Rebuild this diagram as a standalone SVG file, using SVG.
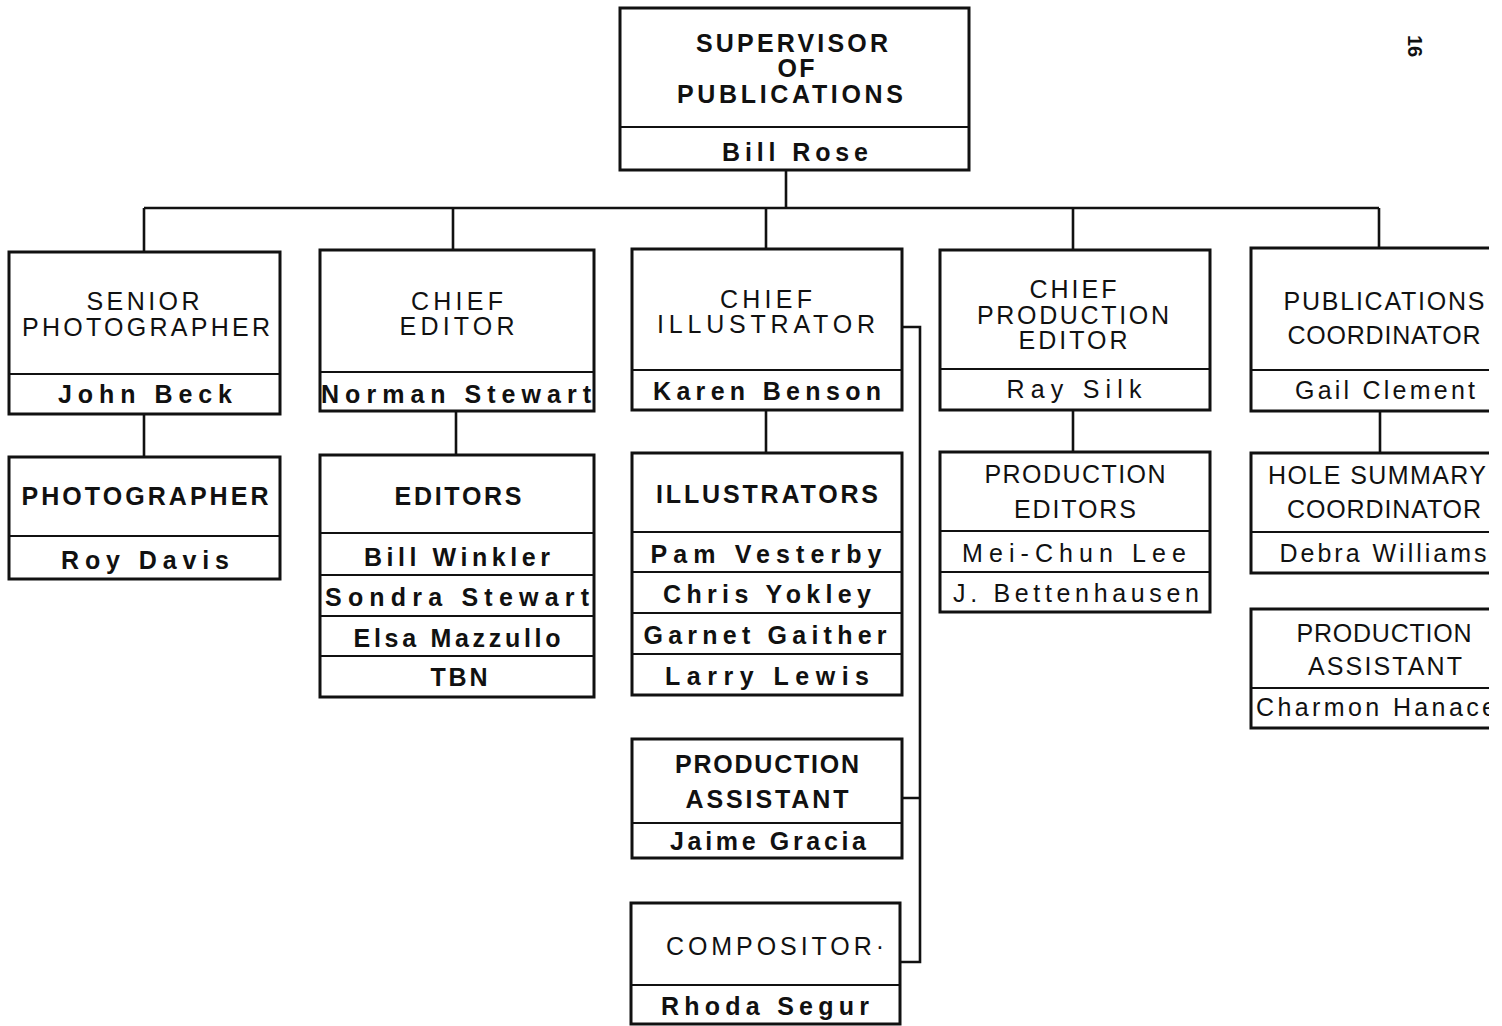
<svg xmlns="http://www.w3.org/2000/svg" width="1502" height="1026" viewBox="0 0 1502 1026">
<style>
.bx{fill:#fff;stroke:#111;stroke-width:3}
.dv{stroke:#111;stroke-width:2.2}
.cn{fill:none;stroke:#111;stroke-width:2.6}
text{font-family:"Liberation Sans","DejaVu Sans",Arial,sans-serif;font-size:25px;fill:#111;text-anchor:middle}
.t{font-weight:normal}
.b{font-weight:bold}
.n{font-weight:bold}
</style>
<defs>
<clipPath id="pg"><rect x="0" y="0" width="1489" height="1026"/></clipPath>
</defs>
<rect width="1502" height="1026" fill="#fff"/>
<g id="connectors">
<path class="cn" d="M786,170 V208 M144,208 H1379 M144,208 V252 M453,208 V250 M766,208 V249 M1073,208 V250 M1379,208 V248"/>
<path class="cn" d="M144,414 V457 M456,411 V455 M766,410 V453 M1073,410 V452 M1380,411 V453"/>
<path class="cn" d="M902,327 H920 V962 H900 M902,798 H920"/>
</g>
<g id="supervisor">
<rect class="bx" x="620" y="8" width="349" height="162"/>
<line class="dv" x1="620" y1="127" x2="969" y2="127"/>
<text class="b" x="792" y="52" textLength="192" lengthAdjust="spacing">SUPERVISOR</text>
<text class="b" x="796" y="77" textLength="37" lengthAdjust="spacing">OF</text>
<text class="b" x="790" y="103" textLength="226" lengthAdjust="spacing">PUBLICATIONS</text>
<text class="n" x="795" y="161" textLength="146" lengthAdjust="spacing">Bill  Rose</text>
</g>
<g id="senior-photographer">
<rect class="bx" x="9" y="252" width="271" height="162"/>
<line class="dv" x1="9" y1="374" x2="280" y2="374"/>
<text class="t" x="143" y="310" textLength="113" lengthAdjust="spacing">SENIOR</text>
<text class="t" x="146" y="336" textLength="248" lengthAdjust="spacing">PHOTOGRAPHER</text>
<text class="n" x="145" y="403" textLength="174" lengthAdjust="spacing">John  Beck</text>
</g>
<g id="photographer">
<rect class="bx" x="9" y="457" width="271" height="122"/>
<line class="dv" x1="9" y1="536" x2="280" y2="536"/>
<text class="b" x="145" y="505" textLength="247" lengthAdjust="spacing">PHOTOGRAPHER</text>
<text class="n" x="145" y="569" textLength="168" lengthAdjust="spacing">Roy  Davis</text>
</g>
<g id="chief-editor">
<rect class="bx" x="320" y="250" width="274" height="161"/>
<line class="dv" x1="320" y1="372" x2="594" y2="372"/>
<text class="t" x="457" y="310" textLength="92" lengthAdjust="spacing">CHIEF</text>
<text class="t" x="457" y="335" textLength="115" lengthAdjust="spacing">EDITOR</text>
<text class="n" x="456" y="403" textLength="270" lengthAdjust="spacing">Norman  Stewart</text>
</g>
<g id="editors">
<rect class="bx" x="320" y="455" width="274" height="242"/>
<line class="dv" x1="320" y1="533" x2="594" y2="533"/>
<line class="dv" x1="320" y1="575" x2="594" y2="575"/>
<line class="dv" x1="320" y1="616" x2="594" y2="616"/>
<line class="dv" x1="320" y1="656" x2="594" y2="656"/>
<text class="b" x="458" y="505" textLength="127" lengthAdjust="spacing">EDITORS</text>
<text class="n" x="457" y="566" textLength="186" lengthAdjust="spacing">Bill  Winkler</text>
<text class="n" x="457" y="606" textLength="264" lengthAdjust="spacing">Sondra  Stewart</text>
<text class="n" x="457" y="647" textLength="207" lengthAdjust="spacing">Elsa  Mazzullo</text>
<text class="n" x="459" y="686" textLength="57" lengthAdjust="spacing">TBN</text>
</g>
<g id="chief-illustrator">
<rect class="bx" x="632" y="249" width="270" height="161"/>
<line class="dv" x1="632" y1="370" x2="902" y2="370"/>
<text class="t" x="766" y="308" textLength="92" lengthAdjust="spacing">CHIEF</text>
<text class="t" x="766" y="333" textLength="218" lengthAdjust="spacing">ILLUSTRATOR</text>
<text class="n" x="767" y="400" textLength="228" lengthAdjust="spacing">Karen  Benson</text>
</g>
<g id="illustrators">
<rect class="bx" x="632" y="453" width="270" height="242"/>
<line class="dv" x1="632" y1="532" x2="902" y2="532"/>
<line class="dv" x1="632" y1="572" x2="902" y2="572"/>
<line class="dv" x1="632" y1="613" x2="902" y2="613"/>
<line class="dv" x1="632" y1="654" x2="902" y2="654"/>
<text class="b" x="767" y="503" textLength="222" lengthAdjust="spacing">ILLUSTRATORS</text>
<text class="n" x="766" y="563" textLength="231" lengthAdjust="spacing">Pam  Vesterby</text>
<text class="n" x="767" y="603" textLength="208" lengthAdjust="spacing">Chris  Yokley</text>
<text class="n" x="765" y="644" textLength="243" lengthAdjust="spacing">Garnet  Gaither</text>
<text class="n" x="767" y="685" textLength="204" lengthAdjust="spacing">Larry  Lewis</text>
</g>
<g id="production-assistant-1">
<rect class="bx" x="632" y="739" width="270" height="119"/>
<line class="dv" x1="632" y1="823" x2="902" y2="823"/>
<text class="b" x="767" y="773" textLength="184" lengthAdjust="spacing">PRODUCTION</text>
<text class="b" x="767" y="808" textLength="163" lengthAdjust="spacing">ASSISTANT</text>
<text class="n" x="768" y="850" textLength="196" lengthAdjust="spacing">Jaime  Gracia</text>
</g>
<g id="compositor">
<rect class="bx" x="631" y="903" width="269" height="121"/>
<line class="dv" x1="631" y1="985" x2="900" y2="985"/>
<text class="t" x="775" y="955" textLength="218" lengthAdjust="spacing">COMPOSITOR·</text>
<text class="n" x="765" y="1015" textLength="208" lengthAdjust="spacing">Rhoda  Segur</text>
</g>
<g id="chief-production-editor">
<rect class="bx" x="940" y="250" width="270" height="160"/>
<line class="dv" x1="940" y1="369" x2="1210" y2="369"/>
<text class="t" x="1073" y="298" textLength="87" lengthAdjust="spacing">CHIEF</text>
<text class="t" x="1073" y="324" textLength="192" lengthAdjust="spacing">PRODUCTION</text>
<text class="t" x="1073" y="349" textLength="109" lengthAdjust="spacing">EDITOR</text>
<text class="t" x="1074" y="398" textLength="135" lengthAdjust="spacing">Ray  Silk</text>
</g>
<g id="production-editors">
<rect class="bx" x="940" y="452" width="270" height="160"/>
<line class="dv" x1="940" y1="531" x2="1210" y2="531"/>
<line class="dv" x1="940" y1="572" x2="1210" y2="572"/>
<text class="t" x="1075" y="483" textLength="181" lengthAdjust="spacing">PRODUCTION</text>
<text class="t" x="1075" y="518" textLength="122" lengthAdjust="spacing">EDITORS</text>
<text class="t" x="1074" y="562" textLength="224" lengthAdjust="spacing">Mei-Chun  Lee</text>
<text class="t" x="1076" y="602" textLength="246" lengthAdjust="spacing">J.  Bettenhausen</text>
</g>
<g clip-path="url(#pg)">
<g id="publications-coordinator">
<rect class="bx" x="1251" y="248" width="260" height="163"/>
<line class="dv" x1="1251" y1="370" x2="1511" y2="370"/>
<text class="t" x="1384" y="310" textLength="201" lengthAdjust="spacing">PUBLICATIONS</text>
<text class="t" x="1384" y="344" textLength="193" lengthAdjust="spacing">COORDINATOR</text>
<text class="t" x="1385" y="399" textLength="180" lengthAdjust="spacing">Gail  Clement</text>
</g>
<g id="hole-summary-coordinator">
<rect class="bx" x="1251" y="453" width="260" height="120"/>
<line class="dv" x1="1251" y1="532" x2="1511" y2="532"/>
<text class="t" x="1377" y="484" textLength="218" lengthAdjust="spacing">HOLE  SUMMARY</text>
<text class="t" x="1384" y="518" textLength="194" lengthAdjust="spacing">COORDINATOR</text>
<text class="t" x="1383" y="562" textLength="207" lengthAdjust="spacing">Debra  Williams</text>
</g>
<g id="production-assistant-2">
<rect class="bx" x="1251" y="609" width="260" height="119"/>
<line class="dv" x1="1251" y1="688" x2="1511" y2="688"/>
<text class="t" x="1384" y="642" textLength="175" lengthAdjust="spacing">PRODUCTION</text>
<text class="t" x="1385" y="675" textLength="154" lengthAdjust="spacing">ASSISTANT</text>
<text class="t" x="1376" y="716" textLength="240" lengthAdjust="spacing">Charmon  Hanace</text>
</g>
</g>
<text class="b" transform="translate(1408,46) rotate(90)" style="font-size:20px" textLength="22" lengthAdjust="spacing">16</text>
</svg>
